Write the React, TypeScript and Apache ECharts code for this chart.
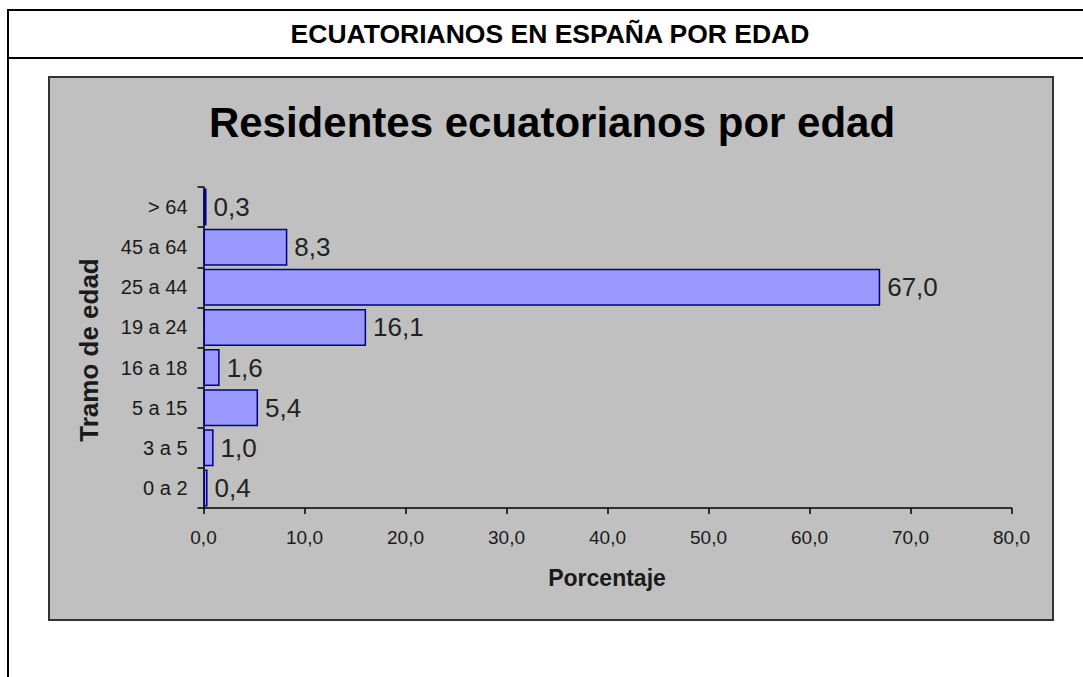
import React, { useEffect, useRef } from "react";
import * as echarts from "echarts";

const categories = ["0 a 2", "3 a 5", "5 a 15", "16 a 18", "19 a 24", "25 a 44", "45 a 64", "> 64"];
const values = [0.4, 1.0, 5.4, 1.6, 16.1, 67.0, 8.3, 0.3];
const headerTitle = "ECUATORIANOS EN ESPAÑA POR EDAD";
const chartTitle = "Residentes ecuatorianos por edad";
const xName = "Porcentaje";
const yName = "Tramo de edad";

const FONT = '"Liberation Sans", Arial, sans-serif';
const fmt = (v: number) => v.toFixed(1).replace(".", ",");

export default function App() {
  const ref = useRef<HTMLDivElement>(null);
  useEffect(() => {
    if (!ref.current) return;
    const chart = echarts.init(ref.current, undefined, { renderer: "svg" });
    chart.setOption({
      animation: false,
      backgroundColor: "#ffffff",
      textStyle: { fontFamily: FONT },
      graphic: [
        { type: "line", shape: { x1: 7, y1: 10, x2: 1083, y2: 10 }, style: { stroke: "#000", lineWidth: 2 }, z: 0 },
        { type: "line", shape: { x1: 7, y1: 58, x2: 1083, y2: 58 }, style: { stroke: "#000", lineWidth: 2 }, z: 0 },
        { type: "line", shape: { x1: 8, y1: 9, x2: 8, y2: 677 }, style: { stroke: "#000", lineWidth: 2 }, z: 0 },
        {
          type: "text", x: 550, y: 34, z: 1,
          style: { text: headerTitle, fill: "#000", font: `bold 26.5px ${FONT}`, textAlign: "center", textVerticalAlign: "middle" },
        },
        {
          type: "rect", shape: { x: 49, y: 77, width: 1004, height: 543 }, z: -10,
          style: { fill: "#c0c0c0", stroke: "#333333", lineWidth: 2 },
        },
        {
          type: "text", x: 552, y: 122, z: 1,
          style: { text: chartTitle, fill: "#000", font: `bold 42px ${FONT}`, textAlign: "center", textVerticalAlign: "middle" },
        },
        {
          type: "text", x: 607, y: 578, z: 1,
          style: { text: xName, fill: "#1a1a1a", font: `bold 23px ${FONT}`, textAlign: "center", textVerticalAlign: "middle" },
        },
        {
          type: "text", x: 89, y: 350, rotation: Math.PI / 2, z: 1,
          style: { text: yName, fill: "#1a1a1a", font: `bold 26px ${FONT}`, textAlign: "center", textVerticalAlign: "middle" },
        },
      ],
      grid: { left: 203.5, right: 71.5, top: 187, bottom: 169, containLabel: false },
      xAxis: {
        type: "value",
        min: 0,
        max: 80,
        interval: 10,
        splitLine: { show: false },
        axisLine: { show: true, lineStyle: { color: "#000", width: 1.5 } },
        axisTick: { show: true, length: 6, lineStyle: { color: "#000", width: 1.5 } },
        axisLabel: { formatter: (v: number) => fmt(v), color: "#1a1a1a", fontSize: 19, margin: 20, fontFamily: FONT },
      },
      yAxis: {
        type: "category",
        data: categories,
        axisLine: { show: true, lineStyle: { color: "#000", width: 1.5 } },
        axisTick: { show: true, length: 6, lineStyle: { color: "#000", width: 1.5 } },
        axisLabel: { color: "#1a1a1a", fontSize: 20, margin: 16, fontFamily: FONT },
      },
      series: [
        {
          type: "bar",
          data: values,
          barCategoryGap: "8%",
          itemStyle: { color: "#9999ff", borderColor: "#000080", borderWidth: 1.5 },
          label: {
            show: true,
            position: "right",
            distance: 7,
            formatter: (p: any) => fmt(p.value),
            color: "#222",
            fontSize: 26,
            fontFamily: FONT,
          },
        },
      ],
    });
    return () => chart.dispose();
  }, []);
  return (
    <div
      ref={ref}
      style={{ position: "fixed", left: 0, top: 0, width: 1083, height: 677, background: "#fff" }}
    />
  );
}
